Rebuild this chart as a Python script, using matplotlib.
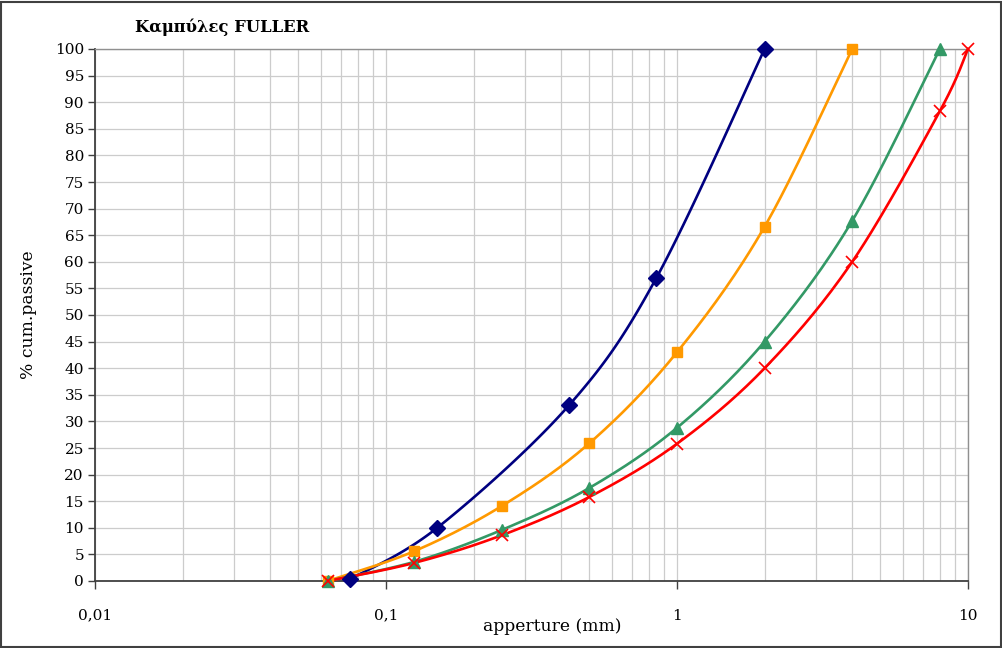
import numpy as np
import matplotlib
matplotlib.use("Agg")
import matplotlib.pyplot as plt
from matplotlib.ticker import FixedLocator, NullFormatter, FuncFormatter
from matplotlib.patches import Rectangle

plt.rcParams['font.family'] = ['DejaVu Serif']

# Sieve apertures (mm) and cumulative % passing for each Fuller curve
x_d2 = [0.075, 0.15, 0.425, 0.85, 2]
y_d2 = [0.3, 10, 33, 57, 100]

x_d4 = [0.063, 0.125, 0.25, 0.5, 1, 2, 4]
y_d4 = [0, 5.6, 14.1, 25.9, 43, 66.6, 100]

x_d8 = [0.063, 0.125, 0.25, 0.5, 1, 2, 4, 8]
y_d8 = [0, 3.6, 9.6, 17.5, 28.8, 45, 67.7, 100]

x_d10 = [0.063, 0.125, 0.25, 0.5, 1, 2, 4, 8, 10]
y_d10 = [0, 3.4, 8.6, 15.8, 25.8, 40, 60, 88.3, 100]

y_ticks = list(range(0, 101, 5))
x_ticks = [0.01, 0.1, 1, 10]
x_tick_labels = ['0,01', '0,1', '1', '10']

XMIN, XMAX, YMIN, YMAX = 0.01, 10, 0, 100


def smooth(xs, ys, n=30):
    """Bezier smoothing (spreadsheet style) evaluated in plot-area pixel space."""
    u = (np.log10(xs) - np.log10(XMIN)) / (np.log10(XMAX) - np.log10(XMIN)) * 873.0
    v = (np.asarray(ys, float) - YMIN) / (YMAX - YMIN) * 532.0
    P = np.column_stack([u, v])
    out = [P[0]]
    m = len(P)
    for i in range(m - 1):
        p0 = P[i - 1] if i > 0 else P[i]
        p1 = P[i]
        p2 = P[i + 1]
        p3 = P[i + 2] if i + 2 < m else P[i + 1]
        c1 = p1 + (p2 - p0) / 6.0
        c2 = p2 - (p3 - p1) / 6.0
        t = np.linspace(0, 1, n)[1:, None]
        seg = ((1 - t) ** 3) * p1 + 3 * ((1 - t) ** 2) * t * c1 + 3 * (1 - t) * t ** 2 * c2 + t ** 3 * p2
        out.extend(seg)
    out = np.array(out)
    xs_s = 10 ** (out[:, 0] / 873.0 * (np.log10(XMAX) - np.log10(XMIN)) + np.log10(XMIN))
    ys_s = out[:, 1] / 532.0 * (YMAX - YMIN) + YMIN
    return xs_s, ys_s


fig = plt.figure(figsize=(10.03, 6.48), dpi=100)
ax = fig.add_axes([95 / 1003, 1 - 581 / 648, (968 - 95) / 1003, (581 - 49) / 648])

series = [
    (x_d2, y_d2, '#000080', 'D', 8),
    (x_d4, y_d4, '#FF9900', 's', 7),
    (x_d8, y_d8, '#339966', '^', 8),
    (x_d10, y_d10, '#FF0000', 'x', 8.5),
]
for xs, ys, col, mk, ms in series:
    sx, sy = smooth(xs, ys)
    ax.plot(sx, sy, color=col, lw=1.9, zorder=3, clip_on=False)
    if mk == 'x':
        ax.plot(xs, ys, ls='none', marker='x', ms=ms, mew=1.2, color=col, zorder=4, clip_on=False)
    else:
        ax.plot(xs, ys, ls='none', marker=mk, ms=ms, mfc=col, mec=col, zorder=4, clip_on=False)

ax.set_xscale('log')
ax.set_xlim(XMIN, XMAX)
ax.set_ylim(YMIN, YMAX)

ax.xaxis.set_major_locator(FixedLocator(x_ticks))
ax.xaxis.set_major_formatter(FuncFormatter(lambda v, p: x_tick_labels[x_ticks.index(v)] if v in x_ticks else ''))
minors = [m * 10.0 ** e for e in range(-2, 1) for m in range(2, 10)]
ax.xaxis.set_minor_locator(FixedLocator(minors))
ax.xaxis.set_minor_formatter(NullFormatter())
ax.set_yticks(y_ticks)

ax.grid(True, which='both', axis='x', color='#CCCCCC', lw=0.9, zorder=0)
ax.grid(True, which='major', axis='y', color='#CCCCCC', lw=0.9, zorder=0)
ax.set_axisbelow(True)

ax.tick_params(axis='x', which='major', direction='out', length=6, width=1, color='#404040',
               labelsize=11, pad=14)
ax.tick_params(axis='x', which='minor', length=0)
ax.tick_params(axis='y', direction='out', length=5, width=1, color='#404040', labelsize=11, pad=3)

for s in ['left', 'bottom']:
    ax.spines[s].set_color('#404040')
    ax.spines[s].set_linewidth(1.3)
for s in ['top', 'right']:
    ax.spines[s].set_color('#909090')
    ax.spines[s].set_linewidth(1.0)

ax.set_xlabel('apperture (mm)', fontsize=12.3)
ax.xaxis.set_label_coords((552 - 95) / 873, -(618 - 581) / 532)
ax.set_ylabel('% cum.passive', fontsize=12.3)
ax.yaxis.set_label_coords(-(95 - 37) / 873, 0.5)

fig.text(135 / 1003, 1 - 27 / 648, 'Καμπύλες FULLER', fontsize=11.8, fontweight='bold',
         ha='left', va='center')

fig.patches.append(Rectangle((1 / 1003, 1 / 648), 1000 / 1003, 645 / 648, transform=fig.transFigure,
                             fill=False, edgecolor='#404040', lw=1.5))

fig.savefig('out.png', dpi=100)
